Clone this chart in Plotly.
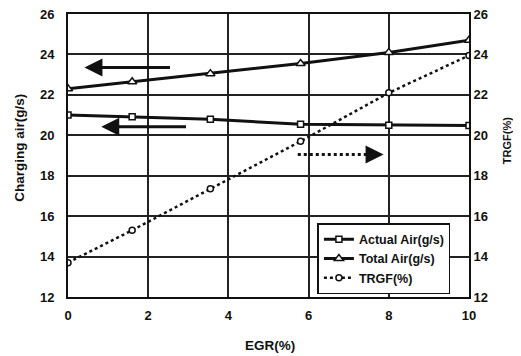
import plotly.graph_objects as go

egr = [0, 1.6, 3.55, 5.8, 8, 10]
actual_air = [21.0, 20.92, 20.79, 20.55, 20.5, 20.49]
total_air = [22.3, 22.65, 23.05, 23.55, 24.1, 24.7]
trgf = [13.7, 15.3, 17.35, 19.7, 22.1, 23.95]

x_ticks = [0, 2, 4, 6, 8, 10]
y_ticks = [12, 14, 16, 18, 20, 22, 24, 26]

FONT = "Liberation Sans"
BLACK = "#111111"

fig = go.Figure()
fig.add_trace(go.Scatter(
    x=egr, y=actual_air, name="<b>Actual Air(g/s)</b>", mode="lines+markers",
    line=dict(color=BLACK, width=3),
    marker=dict(symbol="square", size=6, color="white", line=dict(color=BLACK, width=1.5)),
))
fig.add_trace(go.Scatter(
    x=egr, y=total_air, name="<b>Total Air(g/s)</b>", mode="lines+markers",
    line=dict(color=BLACK, width=3),
    marker=dict(symbol="triangle-up", size=8, color="white", line=dict(color=BLACK, width=1.5)),
))
fig.add_trace(go.Scatter(
    x=egr, y=trgf, name="<b>TRGF(%)</b>", mode="lines+markers", yaxis="y2",
    line=dict(color=BLACK, width=2.5, dash="dot"),
    marker=dict(symbol="circle", size=6, color="white", line=dict(color=BLACK, width=1.5)),
))

# arrows indicating axis association
arrow_left1 = dict(x0=2.58, x1=0.41, y=23.35)
arrow_left2 = dict(x0=2.98, x1=0.83, y=20.42)
arrow_right = dict(x0=5.73, x1=7.87, y=19.05)

annotations = []
for a in (arrow_left1, arrow_left2):
    annotations.append(dict(
        x=a["x1"], y=a["y"], ax=a["x0"], ay=a["y"],
        xref="x", yref="y", axref="x", ayref="y",
        showarrow=True, arrowhead=2, arrowsize=1.2, arrowwidth=3, arrowcolor=BLACK, text="",
    ))
annotations.append(dict(
    x=arrow_right["x1"], y=arrow_right["y"], ax=arrow_right["x1"] - 0.35, ay=arrow_right["y"],
    xref="x", yref="y", axref="x", ayref="y",
    showarrow=True, arrowhead=2, arrowsize=1.2, arrowwidth=3, arrowcolor=BLACK, text="",
))
fig.add_shape(type="line", xref="x", yref="y",
              x0=arrow_right["x0"], x1=arrow_right["x1"] - 0.3, y0=arrow_right["y"], y1=arrow_right["y"],
              line=dict(color=BLACK, width=3, dash="dot"))

annotations.append(dict(
    text="<b>TRGF(%)</b>", xref="paper", yref="paper", x=1.095, y=0.551, textangle=-90,
    xanchor="center", yanchor="middle",
    showarrow=False, font=dict(family=FONT, size=11, color=BLACK),
))
annotations.append(dict(
    text="<b>Charging air(g/s)</b>", xref="paper", yref="paper", x=-0.12, y=0.527, textangle=-90,
    xanchor="center", yanchor="middle",
    showarrow=False, font=dict(family=FONT, size=13.5, color=BLACK),
))
annotations.append(dict(
    text="<b>EGR(%)</b>", xref="paper", yref="paper", x=0.504, y=-0.17,
    xanchor="center", yanchor="middle",
    showarrow=False, font=dict(family=FONT, size=13.5, color=BLACK),
))

axis_common = dict(
    showgrid=True, gridcolor="#222222", gridwidth=1.5,
    showline=True, linecolor=BLACK, linewidth=2,
    tickfont=dict(family=FONT, size=13, color=BLACK),
    ticks="", zeroline=False, automargin=False, ticklabeloverflow="allow",
)

fig.update_layout(
    width=513, height=348,
    margin=dict(l=60, r=52, t=6, b=59, autoexpand=False),
    paper_bgcolor="white", plot_bgcolor="white",
    font=dict(family=FONT, color=BLACK),
    showlegend=True,
    legend=dict(
        x=0.622, y=0.261, xanchor="left", yanchor="top",
        bgcolor="white", bordercolor=BLACK, borderwidth=1.5,
        font=dict(family=FONT, size=12.5, color=BLACK),
        itemwidth=30, tracegroupgap=0,
    ),
    xaxis=dict(
        range=[0, 10], tickvals=x_ticks, ticktext=[f"<b>{v}</b>" for v in x_ticks], mirror=True,
        ticklabelstandoff=5,
        **axis_common,
    ),
    yaxis=dict(
        range=[12, 26], tickvals=y_ticks, ticktext=[f"<b>{v}</b>" for v in y_ticks], mirror=True,
        ticklabelstandoff=9,
        **axis_common,
    ),
    yaxis2=dict(
        range=[12, 26], tickvals=y_ticks, ticktext=[f"<b>{v}</b>" for v in y_ticks],
        overlaying="y", side="right",
        showgrid=False, showline=True, linecolor=BLACK, linewidth=2,
        tickfont=dict(family=FONT, size=13, color=BLACK), ticks="", zeroline=False,
        automargin=False, ticklabeloverflow="allow",
    ),
    annotations=annotations,
)

fig.write_html("out.html")
